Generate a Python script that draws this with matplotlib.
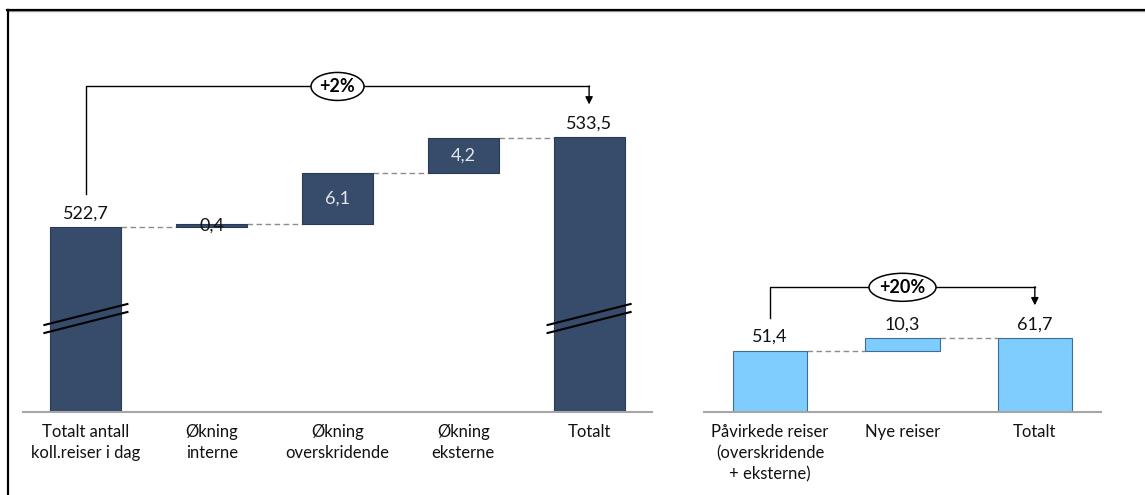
import matplotlib.pyplot as plt
from matplotlib.patches import Ellipse
from matplotlib.lines import Line2D

plt.rcParams["font.family"] = ["Lato", "DejaVu Sans"]

# Left waterfall: collective trips
left_labels = ["Totalt antall\nkoll.reiser i dag", "Økning\ninterne",
               "Økning\noverskridende", "Økning\neksterne", "Totalt"]
left_values = [522.7, 0.4, 6.1, 4.2, 533.5]
left_is_total = [True, False, False, False, True]
left_change = "+2%"
left_base = 500.6  # broken axis, bars start here

# Right waterfall: affected trips
right_labels = ["Påvirkede reiser\n(overskridende\n+ eksterne)", "Nye reiser", "Totalt"]
right_values = [51.4, 10.3, 61.7]
right_is_total = [True, False, True]
right_change = "+20%"
right_base = 0

W, H = 1145, 495
fig = plt.figure(figsize=(W / 100, H / 100), dpi=100)


def fmt(v):
    return f"{v:.1f}".replace(".", ",")


def px_per_unit(ax):
    bb = ax.get_window_extent()
    x0, x1 = ax.get_xlim()
    y0, y1 = ax.get_ylim()
    return bb.width / (x1 - x0), bb.height / (y1 - y0)


def waterfall(ax, labels, values, is_total, base, top, color, edge, width,
              step_inside, change, ell_w, breaks=False):
    n = len(values)
    ax.set_xlim(-0.5, n - 0.5)
    ax.set_ylim(base, top)
    pxx, pxy = px_per_unit(ax)

    running = base
    tops = []
    for i, (v, tot) in enumerate(zip(values, is_total)):
        if tot:
            bottom, height = base, v - base
        else:
            bottom, height = running, v
        running = bottom + height
        tops.append(running)
        ax.bar(i, height, bottom=bottom, width=width, color=color,
               edgecolor=edge, linewidth=0.8, zorder=2)

        if tot or not step_inside:
            ax.annotate(fmt(v), (i, running), xytext=(0, 14), textcoords="offset pixels",
                        ha="center", va="center", fontsize=13, color="#111111")
        else:
            light = height * pxy > 20
            ax.text(i, bottom + height / 2, fmt(v), ha="center", va="center",
                    fontsize=13, color="#E6E6E6" if light else "#111111", zorder=3)

        if breaks and tot:
            for off in (0, 8):
                ax.plot([i - 41.5 / pxx, i + 41.5 / pxx],
                        [base + (78.5 + off) / pxy, base + (99.5 + off) / pxy],
                        color="black", lw=1.5, zorder=4, clip_on=False)

    # dashed connectors
    for i in range(n - 1):
        ax.plot([i + width / 2, i + 1 - width / 2], [tops[i], tops[i]],
                color="#8C8C8C", lw=1, ls=(0, (4, 2.5)), zorder=1)

    # bracket with arrow and change bubble
    gap = 33 / pxy
    y_top = max(tops) + 51 / pxy
    x_end = n - 1
    ax.plot([0, 0, x_end], [tops[0] + gap, y_top, y_top], color="black", lw=1,
            clip_on=False, zorder=3)
    ax.annotate("", xy=(x_end, tops[-1] + gap), xytext=(x_end, y_top + 0.5 / pxy),
                arrowprops=dict(arrowstyle="-|>", color="black", lw=1,
                                mutation_scale=11, shrinkA=0, shrinkB=0),
                annotation_clip=False)
    xm = (n - 1) / 2
    ax.add_patch(Ellipse((xm, y_top), ell_w / pxx, 28 / pxy, facecolor="white",
                         edgecolor="black", lw=1.1, zorder=4, clip_on=False))
    ax.text(xm, y_top, change, ha="center", va="center", fontsize=13,
            fontweight="bold", zorder=5)

    ax.set_xticks(range(n))
    ax.set_xticklabels(labels, fontsize=12, color="#111111", linespacing=1.4)
    ax.tick_params(axis="x", length=0, pad=9)
    ax.set_yticks([])
    for s in ("top", "left", "right"):
        ax.spines[s].set_visible(False)
    ax.spines["bottom"].set_color("#A6A6A6")
    ax.spines["bottom"].set_linewidth(1.5)


ax1 = fig.add_axes([23 / W, (H - 411.5) / H, 629 / W, 391.5 / H])
waterfall(ax1, left_labels, left_values, left_is_total, left_base, 547.6,
          "#374C6B", "#2A3A52", 0.565, True, left_change, 53, breaks=True)

ax2 = fig.add_axes([704 / W, (H - 411.5) / H, 397 / W, 391.5 / H])
waterfall(ax2, right_labels, right_values, right_is_total, right_base, 330,
          "#7FCCFF", "#3D6E99", 0.56, False, right_change, 67)

# frame lines (top and left)
fig.add_artist(Line2D([7.5 / W, 1], [1 - 11 / H, 1 - 11 / H], color="#A0A0A0", lw=1))
fig.add_artist(Line2D([7.5 / W, 7.5 / W], [0, 1 - 9.5 / H], color="black", lw=1.6))
fig.add_artist(Line2D([7 / W, 1], [1 - 9.5 / H, 1 - 9.5 / H], color="black", lw=1.6))

fig.savefig("out.png", dpi=100)
